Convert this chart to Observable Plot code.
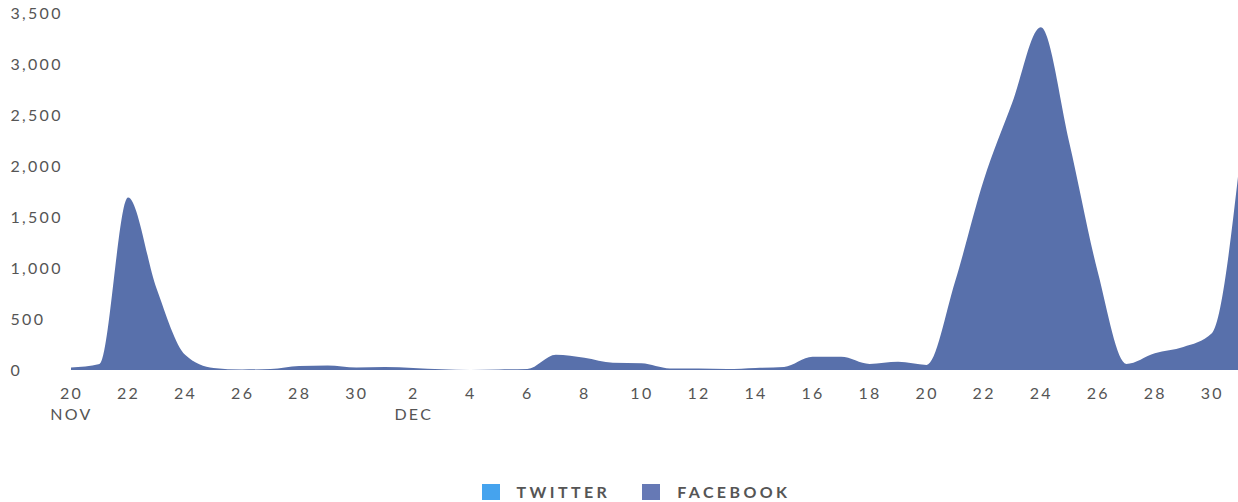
<!DOCTYPE html>
<html>
<head>
<meta charset="utf-8">
<script src="https://cdn.jsdelivr.net/npm/d3@7"></script>
<script src="https://cdn.jsdelivr.net/npm/@observablehq/plot@0.6"></script>
<style>
  html, body { margin: 0; padding: 0; background: #fff; }
  body { width: 1238px; height: 502px; overflow: hidden; font-family: Lato, "Open Sans", sans-serif; }
  #chart svg { display: block; }
  #legend { display: flex; justify-content: center; align-items: center; padding-top: 32px; padding-left: 34px;
            font: 700 16px Lato, sans-serif; letter-spacing: 3.4px; color: #555; }
  .item { display: flex; align-items: center; margin: 0 16px; }
  .sw { width: 18px; height: 16px; margin-right: 17px; }
</style>
</head>
<body>
<div id="chart"></div>
<div id="legend"></div>
<script>
// ---- data ----
const dates = [
  "2014-11-20","2014-11-21","2014-11-22","2014-11-23","2014-11-24","2014-11-25","2014-11-26","2014-11-27",
  "2014-11-28","2014-11-29","2014-11-30","2014-12-01","2014-12-02","2014-12-03","2014-12-04","2014-12-05",
  "2014-12-06","2014-12-07","2014-12-08","2014-12-09","2014-12-10","2014-12-11","2014-12-12","2014-12-13",
  "2014-12-14","2014-12-15","2014-12-16","2014-12-17","2014-12-18","2014-12-19","2014-12-20","2014-12-21",
  "2014-12-22","2014-12-23","2014-12-24","2014-12-25","2014-12-26","2014-12-27","2014-12-28","2014-12-29",
  "2014-12-30","2014-12-31"
];
const facebook = [
  25, 60, 1690, 800, 150, 20, 5, 10,
  40, 45, 25, 30, 20, 8, 0, 5,
  10, 150, 120, 70, 65, 15, 15, 10,
  20, 30, 130, 130, 60, 80, 50, 870,
  1860, 2620, 3360, 2230, 960, 60, 165, 225,
  360, 2100
];
const yTicks = [0, 500, 1000, 1500, 2000, 2500, 3000, 3500];
const xTicks = [
  "2014-11-20","2014-11-22","2014-11-24","2014-11-26","2014-11-28","2014-11-30","2014-12-02","2014-12-04",
  "2014-12-06","2014-12-08","2014-12-10","2014-12-12","2014-12-14","2014-12-16","2014-12-18","2014-12-20",
  "2014-12-22","2014-12-24","2014-12-26","2014-12-28","2014-12-30"
];
const xTickLabels = [
  "20\nNOV","22","24","26","28","30","2\nDEC","4",
  "6","8","10","12","14","16","18","20",
  "22","24","26","28","30"
];
const seriesNames = ["TWITTER", "FACEBOOK"];
const seriesColors = ["#45a3ee", "#6679b5"];

// ---- build ----
const parse = d3.utcParse("%Y-%m-%d");
const rows = dates.map((d, i) => ({date: parse(d), value: facebook[i]}));
const tickDates = xTicks.map(parse);
const labelOf = new Map(tickDates.map((d, i) => [+d, xTickLabels[i]]));

const chart = Plot.plot({
  width: 1238,
  height: 450,
  marginLeft: 71,
  marginRight: 0,
  marginTop: 13,
  marginBottom: 80,
  style: {fontFamily: "Lato, 'Open Sans', sans-serif", fontSize: "16px", color: "#555", letterSpacing: "2.3px"},
  x: {type: "utc", domain: [parse("2014-11-20"), new Date(Date.UTC(2014, 11, 30, 22))]},
  y: {domain: [0, 3500]},
  marks: [
    Plot.areaY(rows, {x: "date", y: "value", fill: "#5870ab", curve: "monotone-x", clip: true}),
    Plot.axisY({ticks: yTicks, tickSize: 0, tickPadding: 61, textAnchor: "start", tickFormat: d3.format(","), label: null, fill: "#555"}),
    Plot.axisX({ticks: tickDates, tickSize: 0, tickPadding: 13, lineHeight: 1.35, tickFormat: d => labelOf.get(+d), label: null, fill: "#555"})
  ]
});
document.getElementById("chart").appendChild(chart);

const legend = document.getElementById("legend");
seriesNames.forEach((n, i) => {
  const it = document.createElement("div");
  it.className = "item";
  it.innerHTML = `<div class="sw" style="background:${seriesColors[i]}"></div><span>${n}</span>`;
  legend.appendChild(it);
});
</script>
</body>
</html>
